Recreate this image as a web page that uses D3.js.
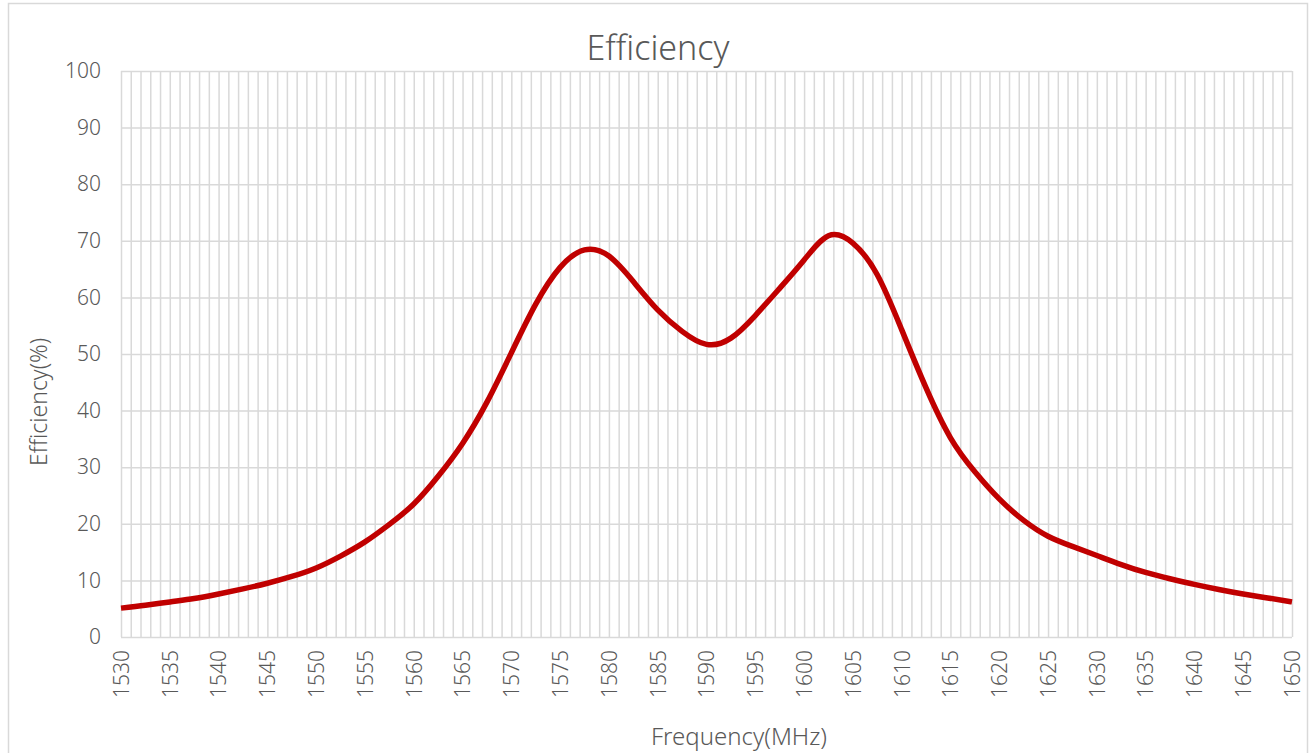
<!doctype html>
<html>
<head>
<meta charset="utf-8">
<script src="https://d3js.org/d3.v7.min.js"></script>
<style>
  body { margin: 0; background: #fff; }
  text { font-family: "Noto Sans", "DejaVu Sans", sans-serif; font-weight: 300; fill: #595959; }
</style>
</head>
<body>
<div id="chart"></div>
<script>
// data, every 2.5 MHz
const freqs = d3.range(1530, 1650.1, 2.5);
const efficiency = [5.1, 5.6, 6.2, 6.8, 7.6, 8.5, 9.5, 10.7, 12.2, 14.3,
  16.8, 19.9, 23.5, 28.4, 34.2, 41.5, 50.2, 58.8, 65.3, 68.4,
  67.3, 62.8, 57.8, 54.0, 51.7, 52.8, 56.8, 61.6, 66.6, 70.9,
  69.6, 64.0, 54.3, 44.0, 35.2, 29.2, 24.4, 20.6, 17.8, 16.0,
  14.4, 12.8, 11.4, 10.3, 9.3, 8.4, 7.6, 6.9, 6.2];
const xTicks = d3.range(1530, 1651, 5);
const xGrid = d3.range(1530, 1651, 1);
const yTicks = d3.range(0, 101, 10);

const W = 1312, H = 753;
const plot = { left: 121, right: 1292, top: 71, bottom: 637 };

const svg = d3.select('#chart').append('svg')
  .attr('width', W).attr('height', H);

// chart frame
svg.append('rect')
  .attr('x', 8.5).attr('y', 3.5)
  .attr('width', 1299).attr('height', 760)
  .attr('fill', 'none').attr('stroke', '#d9d9d9').attr('stroke-width', 1.5);

const x = d3.scaleLinear().domain([1530, 1650]).range([plot.left, plot.right]);
const y = d3.scaleLinear().domain([0, 100]).range([plot.bottom, plot.top]);

// vertical grid every 1 MHz
svg.append('g')
  .attr('transform', `translate(0,${plot.bottom})`)
  .call(d3.axisBottom(x).tickValues(xGrid).tickSize(-(plot.bottom - plot.top)).tickFormat(''))
  .call(g => g.select('.domain').remove())
  .selectAll('line').attr('stroke', '#d9d9d9').attr('stroke-width', 1.5);

// horizontal grid
svg.append('g')
  .attr('transform', `translate(${plot.left},0)`)
  .call(d3.axisLeft(y).tickValues(yTicks).tickSize(-(plot.right - plot.left)).tickFormat(''))
  .call(g => g.select('.domain').remove())
  .selectAll('line').attr('stroke', '#d9d9d9').attr('stroke-width', 1.5);

// y labels
svg.append('g')
  .attr('transform', `translate(${plot.left},0)`)
  .call(d3.axisLeft(y).tickValues(yTicks).tickSize(0).tickPadding(20))
  .call(g => g.select('.domain').remove())
  .selectAll('text')
  .style('font-size', '21px')
  .style('font-family', '"Noto Sans", sans-serif')
  .attr('fill', '#595959');

// x labels, rotated
svg.append('g')
  .attr('transform', `translate(0,${plot.bottom})`)
  .call(d3.axisBottom(x).tickValues(xTicks).tickSize(0).tickFormat(d3.format('d')))
  .call(g => g.select('.domain').remove())
  .selectAll('text')
  .style('font-size', '21px')
  .style('font-family', '"Noto Sans", sans-serif')
  .attr('fill', '#595959')
  .attr('text-anchor', 'end')
  .attr('dy', '0.35em')
  .attr('x', -13)
  .attr('y', 0)
  .attr('transform', 'rotate(-90)');

// curve
const line = d3.line()
  .x((d, i) => x(freqs[i]))
  .y(d => y(d))
  .curve(d3.curveNatural);

svg.append('path')
  .datum(efficiency)
  .attr('d', line)
  .attr('fill', 'none')
  .attr('stroke', '#c00000')
  .attr('stroke-width', 5.5)
  .attr('stroke-linejoin', 'round');

// titles
svg.append('text')
  .attr('x', 658).attr('y', 60)
  .attr('text-anchor', 'middle')
  .style('font-size', '34px')
  .text('Efficiency');

svg.append('text')
  .attr('x', 739).attr('y', 745)
  .attr('text-anchor', 'middle')
  .style('font-size', '24px')
  .text('Frequency(MHz)');

svg.append('text')
  .attr('transform', 'translate(47,402) rotate(-90)')
  .attr('text-anchor', 'middle')
  .style('font-size', '23px')
  .text('Efficiency(%)');
</script>
</body>
</html>
